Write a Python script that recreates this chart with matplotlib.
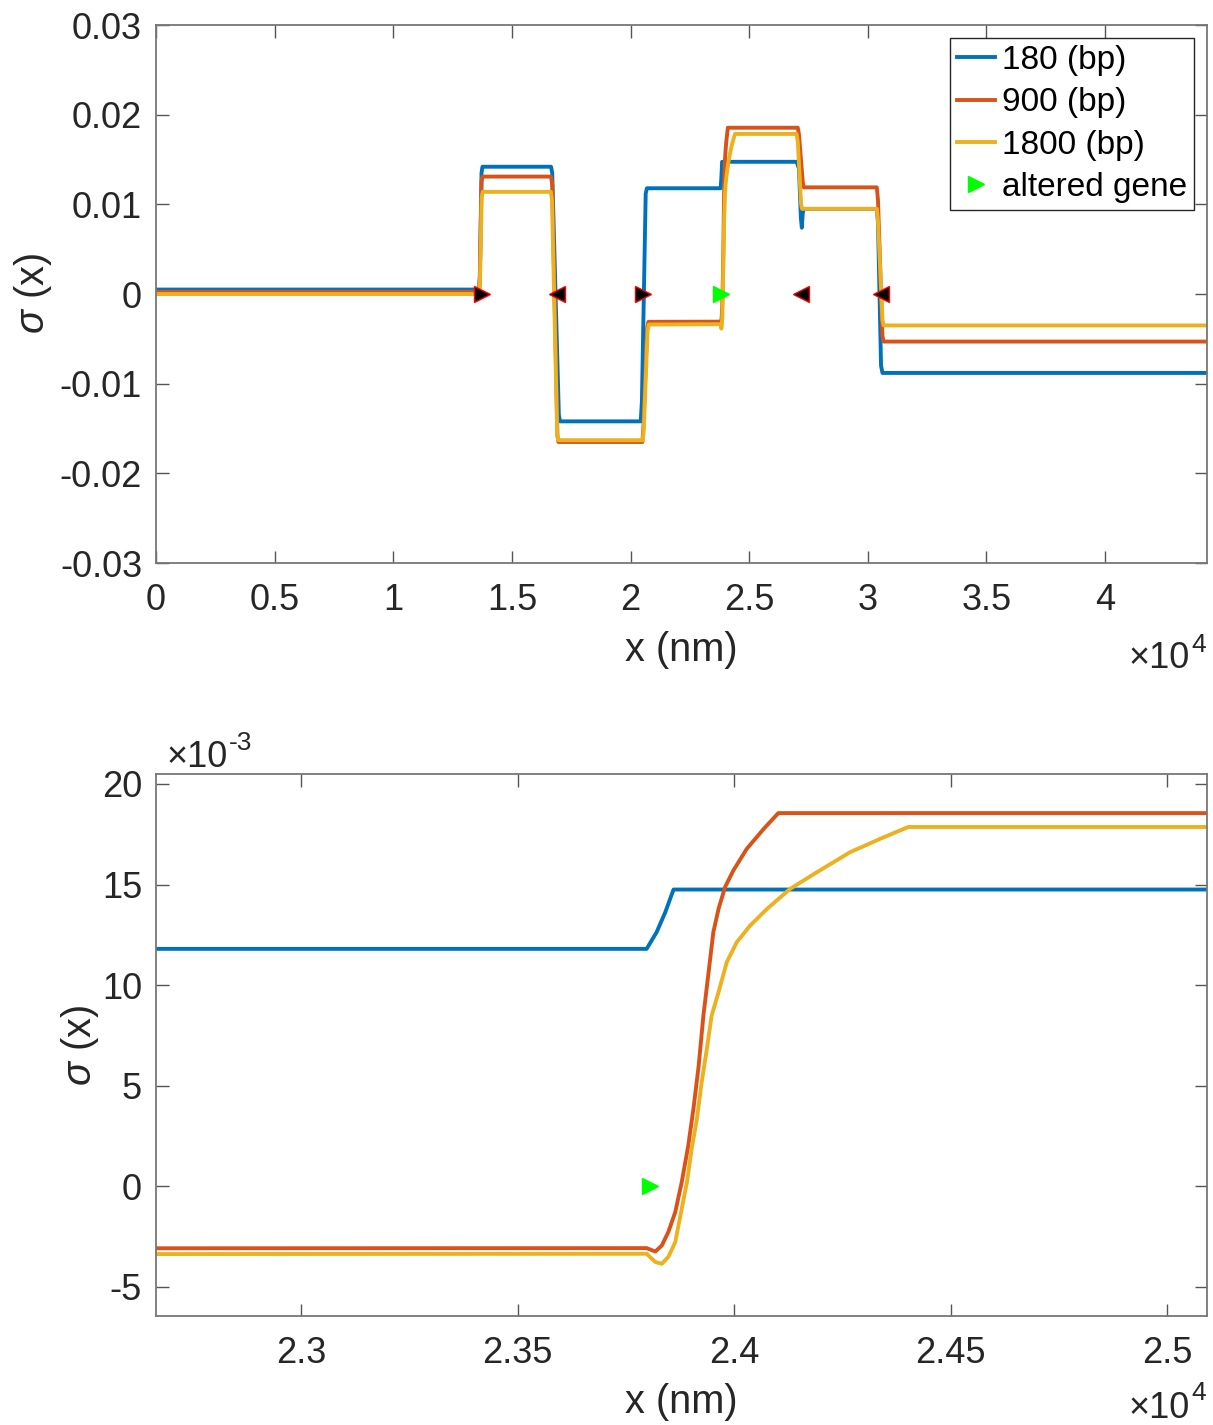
import matplotlib.pyplot as plt
import numpy as np

plt.rcParams['font.family'] = ['Liberation Sans', 'DejaVu Sans']
plt.rcParams['mathtext.fontset'] = 'custom'
plt.rcParams['mathtext.rm'] = 'Liberation Sans'
plt.rcParams['mathtext.it'] = 'Liberation Sans:italic'
plt.rcParams['axes.unicode_minus'] = False

# --- data (x in nm, sigma dimensionless) ---
x_180 = [0, 13620, 13650, 13720, 13760, 16650, 16700, 16980, 17030, 20430, 20480,
         20640, 20690, 23798, 23821, 23841, 23860, 27000, 27100, 27180, 27220,
         27260, 27300, 30380, 30430, 30560, 30620, 44300]
s_180 = [0.0005, 0.0005, 0.002, 0.0135, 0.0142, 0.0142, 0.0135, -0.0135, -0.0142,
         -0.0142, -0.0120, 0.0112, 0.0118, 0.0118, 0.01263, 0.01362, 0.01475,
         0.01475, 0.0140, 0.0085, 0.0074, 0.0090, 0.0095, 0.0095, 0.0080, -0.0080,
         -0.0088, -0.0088]

x_900 = [0, 13620, 13650, 13720, 13760, 16650, 16700, 16920, 16960, 20500, 20540,
         20700, 20750, 23798, 23818, 23833, 23848, 23864, 23879, 23894, 23906,
         23918, 23929, 23941, 23952, 23964, 23979, 23998, 24029, 24068, 24102,
         27050, 27100, 27260, 27300, 30380, 30430, 30620, 30670, 44300]
s_900 = [0.00025, 0.00025, 0.002, 0.0125, 0.0131, 0.0131, 0.0122, -0.0158, -0.0165,
         -0.0165, -0.0150, -0.0038, -0.0031, -0.00308, -0.00325, -0.00295, -0.00228,
         -0.00129, 0.0002, 0.00201, 0.00385, 0.00597, 0.00848, 0.01064, 0.01263,
         0.01379, 0.01487, 0.01569, 0.01677, 0.01776, 0.01855, 0.01855, 0.0178,
         0.0125, 0.0119, 0.0119, 0.0105, -0.0047, -0.0053, -0.0053]

x_1800 = [0, 13620, 13660, 13730, 13770, 16640, 16690, 16910, 16950, 20520, 20560,
          20720, 20770, 23798, 23818, 23833, 23848, 23864, 23879, 23891, 23902,
          23914, 23925, 23937, 23948, 23964, 23983, 24006, 24037, 24076, 24129,
          24191, 24268, 24337, 24402, 27000, 27050, 27190, 27230, 30380, 30430,
          30620, 30670, 44300]
s_1800 = [0.0, 0.0, 0.002, 0.0108, 0.0114, 0.0114, 0.0105, -0.0156, -0.0163, -0.0163,
          -0.0150, -0.0041, -0.0034, -0.00336, -0.00377, -0.00386, -0.00352, -0.00278,
          -0.00112, 0.0002, 0.00186, 0.00335, 0.00517, 0.00683, 0.00848, 0.00965,
          0.01114, 0.01213, 0.01296, 0.01379, 0.01478, 0.01561, 0.01661, 0.01727,
          0.01786, 0.01786, 0.0170, 0.0100, 0.0095, 0.0095, 0.0082, -0.0029, -0.0035,
          -0.0035]

right_marks = [13740, 20520]
left_marks = [16920, 27170, 30540]
altered = [23805]

series = [(x_180, s_180, '180 (bp)', '#0072BD'),
          (x_900, s_900, '900 (bp)', '#D95319'),
          (x_1800, s_1800, '1800 (bp)', '#EDB120')]

TICK_FS = 26
LABEL_FS = 28.6
AX_COL = '#262626'

fig = plt.figure(figsize=(12.13, 14.25), dpi=100)
ax1 = fig.add_axes([0.1286, 0.6049, 0.8665, 0.3775])
ax2 = fig.add_axes([0.1286, 0.0767, 0.8665, 0.3798])


def style(ax):
    for sp in ax.spines.values():
        sp.set_color('#777777')
        sp.set_linewidth(1.3)
    ax.tick_params(direction='in', length=9, width=1.0, color='#555555',
                   top=True, right=True, labelsize=TICK_FS, labelcolor=AX_COL)
    ax.tick_params(axis='x', pad=14.5)
    ax.tick_params(axis='y', pad=10)


def exponent(ax, x, y, base, sup, ha):
    # "x10" plus a raised exponent, as MATLAB draws it
    ax.text(x, y[0], base, transform=ax.transAxes, ha='right', va='baseline',
            fontsize=TICK_FS, color=AX_COL)
    ax.text(x + 0.001, y[1], sup, transform=ax.transAxes, ha='left', va='baseline',
            fontsize=19, color=AX_COL)


for ax in (ax1, ax2):
    for xs, ys, lab, col in series:
        ax.plot(xs, ys, color=col, lw=2.8, label=lab)
    ax.plot(right_marks, np.zeros(len(right_marks)), linestyle='none', marker='>',
            ms=11, mfc='black', mec='red', mew=1.0)
    ax.plot(left_marks, np.zeros(len(left_marks)), linestyle='none', marker='<',
            ms=11, mfc='black', mec='red', mew=1.0)
    ax.plot(altered, np.zeros(len(altered)), linestyle='none', marker='>',
            ms=12, mfc='#00FF00', mec='#00FF00', label='altered gene')
    style(ax)

# top panel
ax1.set_xlim(0, 44300)
ax1.set_ylim(-0.03, 0.03)
xt = np.arange(0, 45000, 5000)
ax1.set_xticks(xt)
ax1.set_xticklabels(['0', '0.5', '1', '1.5', '2', '2.5', '3', '3.5', '4'])
yt = [-0.03, -0.02, -0.01, 0, 0.01, 0.02, 0.03]
ax1.set_yticks(yt)
ax1.set_yticklabels(['-0.03', '-0.02', '-0.01', '0', '0.01', '0.02', '0.03'])
ax1.set_xlabel('x (nm)', fontsize=LABEL_FS, color=AX_COL, labelpad=9)
ax1.set_ylabel(r'$\it{\sigma}$ (x)', fontsize=LABEL_FS, color=AX_COL, labelpad=4)
exponent(ax1, 0.9838, (-0.1952, -0.1649), '×10', '4', 'right')
leg = ax1.legend(loc='upper right', fontsize=24, frameon=True, fancybox=False,
                 framealpha=1, edgecolor=AX_COL, borderpad=0.2, labelspacing=0.34,
                 handlelength=1.15, handletextpad=0.2, borderaxespad=0.4)
leg.get_frame().set_linewidth(1.0)
for t in leg.get_texts():
    t.set_color('black')

# bottom panel (zoom)
ax2.set_xlim(22665, 25092)
ax2.set_ylim(-6.44e-3, 20.47e-3)
ax2.set_xticks([23000, 23500, 24000, 24500, 25000])
ax2.set_xticklabels(['2.3', '2.35', '2.4', '2.45', '2.5'])
ax2.set_yticks([-5e-3, 0, 5e-3, 10e-3, 15e-3, 20e-3])
ax2.set_yticklabels(['-5', '0', '5', '10', '15', '20'])
ax2.set_xlabel('x (nm)', fontsize=LABEL_FS, color=AX_COL, labelpad=9)
ax2.set_ylabel(r'$\it{\sigma}$ (x)', fontsize=LABEL_FS, color=AX_COL, labelpad=0.5)
exponent(ax2, 0.9838, (-0.189, -0.1557), '×10', '4', 'right')
exponent(ax2, 0.0685, (1.0144, 1.0453), '×10', '-3', 'left')

fig.savefig('out.png', dpi=100)
